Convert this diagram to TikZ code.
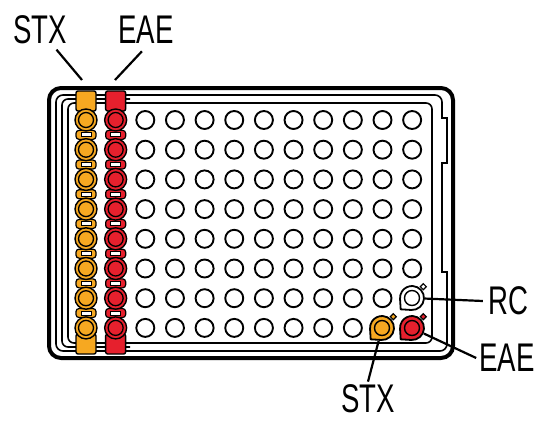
\documentclass[tikz,border=0pt]{standalone}
\usepackage{fontspec}
\newfontfamily\labelfont{Liberation Sans}[FakeStretch=0.69]
\usetikzlibrary{positioning}
\definecolor{stxcol}{HTML}{F6A821}
\definecolor{eaecol}{HTML}{E6202D}
\tikzset{well/.style={circle,draw,line width=1.9pt,minimum size=18pt,inner sep=0pt},
  ring/.style={circle,draw,line width=1.4pt,minimum size=22pt,inner sep=0pt},
  tab/.style={rectangle,draw,line width=1.4pt,rounded corners=2pt,minimum width=20pt,minimum height=20pt,inner sep=0pt},
  link/.style={rectangle,draw,line width=1.2pt,rounded corners=3pt,minimum width=20pt,minimum height=9pt,inner sep=0pt},
  gap/.style={rectangle,draw,fill=white,line width=1pt,minimum width=10pt,minimum height=4pt,inner sep=0pt},
  lab/.style={font=\labelfont\fontsize{40}{40}\selectfont,inner sep=3pt},
  lead/.style={line width=2.2pt}}
\newcommand{\tabwell}[3]{%
  \draw[line width=1.2pt,fill=#3] (#2) ++(45:16pt) +(-3pt,0) -- +(0,3pt) -- +(3pt,0) -- +(0,-3pt) -- cycle;
  \draw[line width=1.8pt,fill=#3] (#2) +(225:16pt) -- +(266.4:12pt) arc[start angle=266.4,end angle=543.6,radius=12pt] -- cycle;
  \draw[line width=1.4pt,fill=#3] (#2) circle[radius=7.5pt];
  \node[circle,minimum size=26pt,inner sep=0pt] (#1) at (#2) {};}

\begin{document}
\begin{tikzpicture}[x=1pt,y=-1pt]
    \useasboundingbox (0,0) rectangle (535,420);

    % plate
    \draw[line width=4pt,rounded corners=12pt] (49,88) rectangle (453,358);
    \draw[line width=1.6pt] (56,200) [rounded corners=7pt] -- (56,95) -- (442,95) -- (442,110) [sharp corners] -- (442,118) -- (447,118) -- (447,163) -- (442,163) -- (442,272) -- (447,272) -- (447,300) [rounded corners=7pt] -- (447,351) -- (56,351) -- cycle;
    \draw[line width=1.6pt,rounded corners=6pt] (130,99) -- (62,99) -- (62,347) -- (130,347);
    \draw[line width=1.6pt,rounded corners=6pt] (68,103) rectangle (432,343);

    % empty wells
    \foreach \c in {3,...,12}{
      \foreach \r in {1,...,8}{
        \pgfmathtruncatemacro\spec{or(and(\c==12,\r>6),and(\c==11,\r==8))}
        \ifnum\spec=0
          \node[well] (w-\c-\r) at ({86+29.65*(\c-1)},{120+29.7*(\r-1)}) {};
        \fi
      }
    }

    % strips
    \foreach \c/\col in {1/stxcol,2/eaecol}{
      \pgfmathsetmacro\xx{86+29.65*(\c-1)}
      \node[tab,fill=\col] (tt-\c) at (\xx,101) {};
      \node[tab,fill=\col] (tb-\c) at (\xx,344) {};
      \foreach \r in {1,...,7}{
        \node[link,fill=\col] (l-\c-\r) at (\xx,{134.85+29.7*(\r-1)}) {};
        \node[gap] at (l-\c-\r) {};
      }
      \foreach \r in {1,...,8}{
        \node[ring,fill=\col] (s-\c-\r) at (\xx,{120+29.7*(\r-1)}) {};
        \draw[line width=1.3pt,fill=\col] (s-\c-\r.center) circle[radius=7.5pt];
      }
    }

    % marked wells
    \tabwell{rcw}{412,298}{white}
    \tabwell{stxw}{382,328}{stxcol}
    \tabwell{eaew}{412,328}{eaecol}

    % labels
    \node[lab] (stxlab) at (40,30) {STX};
    \node[lab] (eaelab) at (146,30) {EAE};
    \node[lab,inner sep=5pt] (rclab) at (508,301) {RC};
    \node[lab] (eaerlab) at (507,358) {EAE};
    \node[lab] (stxblab) at (368,399) {STX};
    \coordinate (stxtip) at (82,80);
    \coordinate (eaetip) at (115,80);

    \draw[lead,shorten <=3pt] (stxlab) -- (stxtip);
    \draw[lead,shorten <=6pt] (eaelab.south) -- (eaetip);
    \draw[lead] (rcw) -- (rclab.west);
    \draw[lead] (eaew) -- (eaerlab.west);
    \draw[lead] (stxw) -- (stxblab.north);
\end{tikzpicture}
\end{document}
